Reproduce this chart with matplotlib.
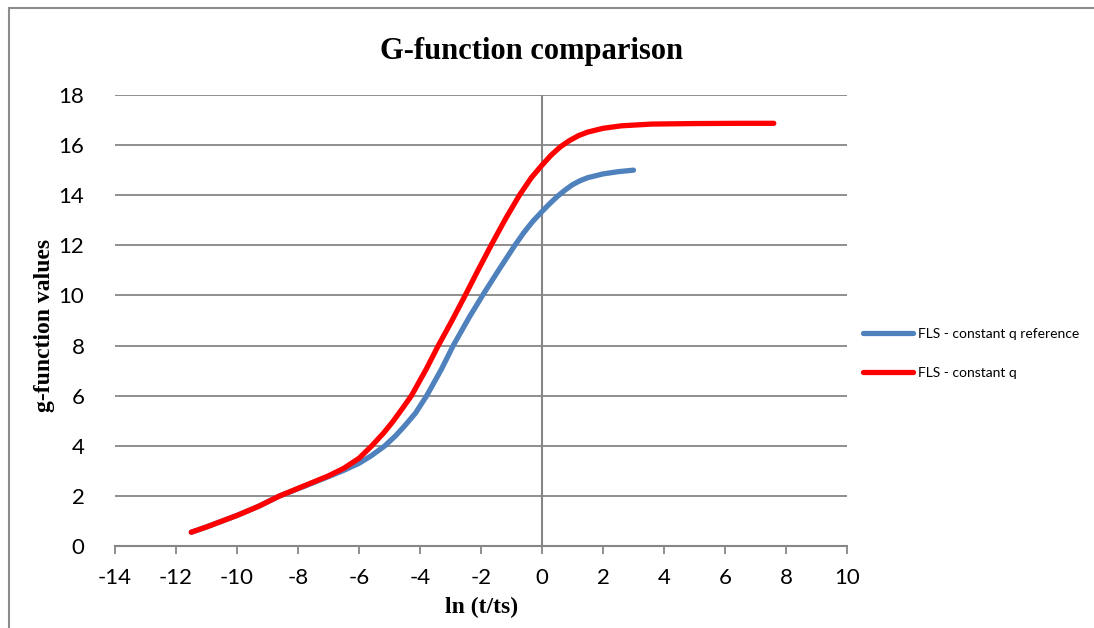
import matplotlib
matplotlib.use("Agg")
import matplotlib.pyplot as plt
from matplotlib.patches import Rectangle

plt.rcParams["axes.unicode_minus"] = False

# ---- data ----
ref_x = [-11.5, -11.0, -10.0, -9.3, -8.6, -7.8, -7.0, -6.5, -6.0, -5.6, -5.15,
         -4.8, -4.5, -4.15, -3.78, -3.3, -2.91, -2.4, -1.95, -1.4, -0.89,
         -0.6, -0.3, 0.0, 0.25, 0.5, 0.75, 1.0, 1.25, 1.5, 2.0, 2.5, 3.0]
ref_y = [0.55, 0.76, 1.22, 1.58, 2.0, 2.38, 2.77, 3.02, 3.3, 3.6, 4.0,
         4.4, 4.8, 5.3, 6.0, 7.05, 8.0, 9.1, 10.0, 11.05, 12.0,
         12.5, 12.96, 13.35, 13.66, 13.95, 14.2, 14.42, 14.58, 14.7, 14.85, 14.94, 15.0]

fls_x = [-11.5, -11.0, -10.0, -9.3, -8.6, -7.8, -7.0, -6.5, -6.0, -5.58, -5.2,
         -4.9, -4.6, -4.28, -3.8, -3.4, -2.95, -2.52, -2.1, -1.67, -1.2,
         -0.74, -0.35, 0.0, 0.3, 0.6, 0.9, 1.2, 1.5, 2.0, 2.6, 3.6, 5.0, 6.5, 7.6]
fls_y = [0.55, 0.76, 1.22, 1.58, 2.0, 2.4, 2.8, 3.1, 3.5, 4.0, 4.5,
         4.95, 5.45, 6.0, 7.05, 8.0, 9.0, 10.0, 11.0, 12.0, 13.05,
         14.0, 14.7, 15.2, 15.6, 15.93, 16.18, 16.38, 16.52, 16.67, 16.77,
         16.84, 16.86, 16.87, 16.87]

x_ticks = list(range(-14, 11, 2))
y_ticks = list(range(0, 19, 2))

title = "G-function comparison"
xlabel = "ln (t/ts)"
ylabel = "g-function values"
labels = ["FLS - constant q reference", "FLS - constant q"]

# ---- figure ----
W, H = 1094, 628
fig = plt.figure(figsize=(W / 100, H / 100), dpi=100)
ax = fig.add_axes([115 / W, 1 - 546 / H, (847 - 115) / W, (546 - 95) / H])

grid_c = "#868686"
ax.set_xlim(-14, 10)
ax.set_ylim(0, 18)
ax.set_xticks(x_ticks)
ax.set_yticks(y_ticks)
for yv in y_ticks[1:]:
    ax.axhline(yv, color=grid_c, lw=1.3, zorder=1)
ax.axvline(0, color=grid_c, lw=1.5, zorder=1)

ax.plot(ref_x, ref_y, color="#4F81BD", lw=3.8, solid_capstyle="round",
        solid_joinstyle="round", label=labels[0], zorder=3)
ax.plot(fls_x, fls_y, color="#FF0000", lw=3.8, solid_capstyle="round",
        solid_joinstyle="round", label=labels[1], zorder=4)

for s in ["left", "top", "right"]:
    ax.spines[s].set_visible(False)
ax.spines["bottom"].set_color(grid_c)
ax.spines["bottom"].set_linewidth(1.5)
ax.tick_params(axis="x", direction="out", length=6, width=1.3, color=grid_c,
               labelsize=16, pad=10)
ax.tick_params(axis="y", length=0, labelsize=16, pad=22)
for lab in ax.get_xticklabels() + ax.get_yticklabels():
    lab.set_fontfamily("Lato")

fig.text(532 / W, 1 - 51 / H, title, ha="center", va="center",
         fontfamily="Liberation Serif", fontweight="bold", fontsize=22)
fig.text(482 / W, 1 - 607 / H, xlabel, ha="center", va="center",
         fontfamily="Liberation Serif", fontweight="bold", fontsize=17)
fig.text(45 / W, 1 - 325 / H, ylabel, ha="center", va="center", rotation=90,
         fontfamily="Liberation Serif", fontweight="bold", fontsize=17)

leg = fig.legend(loc="upper left", bbox_to_anchor=(850 / W, 1 - 315 / H),
                 frameon=False, prop={"family": "Lato", "size": 10},
                 handlelength=3.6, handletextpad=0.4, labelspacing=2.0)

fig.add_artist(Rectangle((8.5 / W, -0.2), 1.5, 1.2 - 7.5 / H, transform=fig.transFigure,
                         fill=False, edgecolor="#8c8c8c", lw=1.5))

fig.savefig("out.png", dpi=100)
